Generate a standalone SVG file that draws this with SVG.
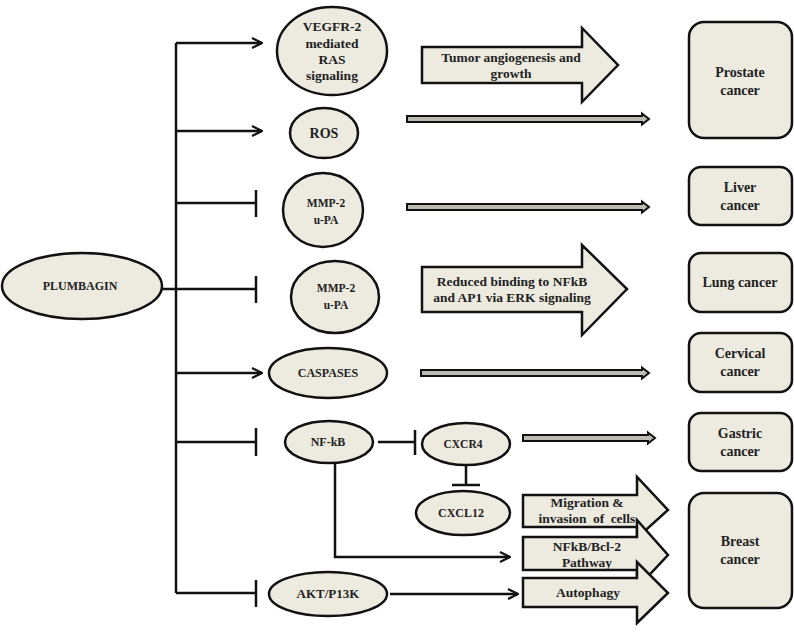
<svg xmlns="http://www.w3.org/2000/svg" width="794" height="632" viewBox="0 0 794 632">
<style>
.n{fill:#EDEAE0;stroke:#111;stroke-width:2.5}
.b{fill:#EDEAE0;stroke:#111;stroke-width:2.5}
.t{font-family:'Liberation Serif','Times New Roman','DejaVu Serif',serif;font-weight:bold;fill:#222;text-anchor:middle}
.c{fill:none;stroke:#111;stroke-width:2.5}
.d{fill:#BDBBB3;stroke:#111;stroke-width:2}
</style>
<defs>
<marker id="ah" viewBox="0 0 12 12" refX="11" refY="6" markerWidth="12" markerHeight="12" markerUnits="userSpaceOnUse" orient="auto">
<path d="M1,1 L11,6 L1,11" fill="none" stroke="#111" stroke-width="2.2"/>
</marker>
</defs>
<g id="connectors">
<path class="c" d="M176,43 V593"/>
<path class="c" d="M176,43 H262" marker-end="url(#ah)"/>
<path class="c" d="M176,131 H262" marker-end="url(#ah)"/>
<path class="c" d="M176,203 H256 M256,190 V217"/>
<path class="c" d="M162,289 H256 M256,276 V303"/>
<path class="c" d="M176,373 H262" marker-end="url(#ah)"/>
<path class="c" d="M176,442 H256 M256,428 V456"/>
<path class="c" d="M176,593 H256 M256,580 V607"/>
<path class="c" d="M378,442 H415 M415,430 V455"/>
<path class="c" d="M466,465 V485 M452,485 H480"/>
<path class="c" d="M335,463 V557 H510" marker-end="url(#ah)"/>
<path class="c" d="M390,594 H518" marker-end="url(#ah)"/>
<path class="d" d="M407,116 H642 V113.5 L649,119 L642,124.5 V122 H407 Z"/>
<path class="d" d="M407,204 H642 V201.5 L649,207 L642,212.5 V210 H407 Z"/>
<path class="d" d="M421,370 H642 V367.5 L649,373 L642,378.5 V376 H421 Z"/>
<path class="d" d="M523,435 H648 V432.5 L655,438 L648,443.5 V441 H523 Z"/>
</g>
<g id="plumbagin"><ellipse class="n" cx="82" cy="286" rx="80" ry="33"/><text class="t" x="80" y="290" font-size="12">PLUMBAGIN</text></g>
<g id="vegfr2"><ellipse class="n" cx="332" cy="51" rx="55" ry="44"/>
<text class="t" x="332" y="31" font-size="13.5">VEGFR-2</text><text class="t" x="332" y="48" font-size="13.5">mediated</text><text class="t" x="332" y="64" font-size="13.5">RAS</text><text class="t" x="332" y="80" font-size="13.5">signaling</text></g>
<g id="ros"><ellipse class="n" cx="324" cy="133" rx="34" ry="25"/><text class="t" x="324" y="138" font-size="14">ROS</text></g>
<g id="mmp2a"><ellipse class="n" cx="323" cy="210" rx="40" ry="37"/><text class="t" x="326" y="207" font-size="11.5">MMP-2</text><text class="t" x="326" y="224" font-size="11.5">u-PA</text></g>
<g id="mmp2b"><ellipse class="n" cx="335" cy="297" rx="44" ry="36"/><text class="t" x="336" y="292" font-size="11.5">MMP-2</text><text class="t" x="336" y="309" font-size="11.5">u-PA</text></g>
<g id="caspases"><ellipse class="n" cx="328" cy="373" rx="59" ry="25"/><text class="t" x="328" y="377" font-size="12">CASPASES</text></g>
<g id="nfkb"><ellipse class="n" cx="329" cy="442" rx="44" ry="21"/><text class="t" x="328" y="446" font-size="12">NF-kB</text></g>
<g id="akt"><ellipse class="n" cx="328" cy="594" rx="59" ry="22"/><text class="t" x="328" y="598" font-size="13">AKT/P13K</text></g>
<g id="cxcr4"><ellipse class="n" cx="466" cy="444" rx="44" ry="21"/><text class="t" x="463" y="448" font-size="11.5">CXCR4</text></g>
<g id="cxcl12"><ellipse class="n" cx="463" cy="513" rx="47" ry="22"/><text class="t" x="461" y="517" font-size="12">CXCL12</text></g>
<g id="arrow-tumor"><path class="b" d="M422,47 H582 V28 L618,65 L582,102 V83 H422 Z"/>
<text class="t" x="511" y="62" font-size="13.5">Tumor angiogenesis and</text><text class="t" x="511" y="78" font-size="13.5">growth</text></g>
<g id="arrow-reduced"><path class="b" d="M422,267 H582 V245 L627,289 L582,335 V312 H422 Z"/>
<text class="t" x="512" y="286" font-size="13.5">Reduced binding to NFkB</text><text class="t" x="512" y="302" font-size="13.5">and AP1 via ERK signaling</text></g>
<g id="arrow-migration"><path class="b" d="M523,495 H637 V477 L668,510 L637,538 V527 H523 Z"/>
<text class="t" x="587" y="507" font-size="13.5">Migration &amp;</text><text class="t" x="587" y="523" font-size="13.5" word-spacing="3">invasion of cells</text></g>
<g id="arrow-nfkb"><path class="b" d="M523,537 H637 V520 L668,555 L637,588 V570 H523 Z"/>
<text class="t" x="587" y="551" font-size="13.5">NFkB/Bcl-2</text><text class="t" x="587" y="567" font-size="13.5">Pathway</text></g>
<g id="arrow-autophagy"><path class="b" d="M523,578 H637 V562 L668,593 L637,623 V607 H523 Z"/>
<text class="t" x="588" y="597" font-size="13.5">Autophagy</text></g>
<g id="prostate"><rect class="n" x="689" y="22" width="103" height="116" rx="15"/><text class="t" x="740" y="77" font-size="14">Prostate</text><text class="t" x="740" y="95" font-size="14">cancer</text></g>
<g id="liver"><rect class="n" x="689" y="167" width="103" height="58" rx="12"/><text class="t" x="740" y="192" font-size="14">Liver</text><text class="t" x="740" y="210" font-size="14">cancer</text></g>
<g id="lung"><rect class="n" x="689" y="253" width="103" height="59" rx="12"/><text class="t" x="740" y="287" font-size="14">Lung cancer</text></g>
<g id="cervical"><rect class="n" x="689" y="333" width="103" height="59" rx="12"/><text class="t" x="740" y="358" font-size="14">Cervical</text><text class="t" x="740" y="376" font-size="14">cancer</text></g>
<g id="gastric"><rect class="n" x="689" y="413" width="103" height="58" rx="12"/><text class="t" x="740" y="438" font-size="14">Gastric</text><text class="t" x="740" y="456" font-size="14">cancer</text></g>
<g id="breast"><rect class="n" x="689" y="493" width="103" height="115" rx="15"/><text class="t" x="740" y="546" font-size="14">Breast</text><text class="t" x="740" y="564" font-size="14">cancer</text></g>
</svg>
